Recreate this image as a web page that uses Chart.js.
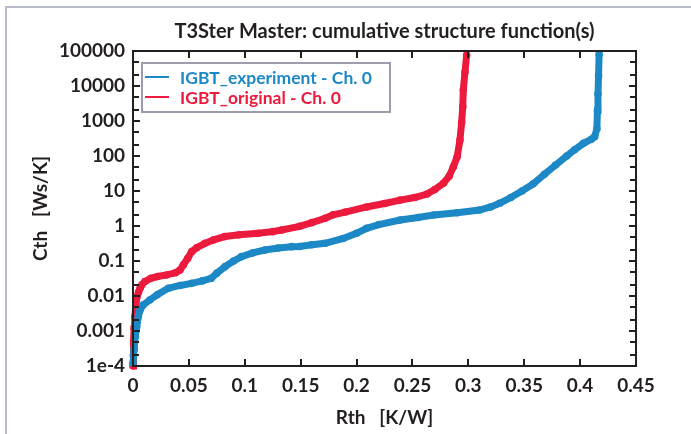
<!DOCTYPE html>
<html>
<head>
<meta charset="utf-8">
<script src="https://cdn.jsdelivr.net/npm/chart.js@4.4.1/dist/chart.umd.min.js"></script>
<style>
  html, body { margin: 0; padding: 0; background: #fff; overflow: hidden; }
  #frame { position: absolute; left: 5px; top: 6px; width: 720px; height: 460px;
           border-left: 2px solid #b9bdca; border-top: 2px solid #b9bdca; }
  #wrap { position: absolute; left: 0; top: 0; width: 691px; height: 434px; }
</style>
</head>
<body>
<div id="frame"></div>
<div id="wrap"><canvas id="myChart" width="691" height="434"></canvas></div>
<script>
// values
var originalRth = [0, 0.0003, 0.0006, 0.001, 0.0015, 0.0025, 0.0035, 0.005, 0.0063, 0.008, 0.0107, 0.016, 0.022, 0.03,
  0.038, 0.042, 0.045, 0.049, 0.0525, 0.057, 0.0644, 0.072, 0.0823, 0.095, 0.112, 0.125, 0.133, 0.149, 0.16,
  0.172, 0.179, 0.19, 0.209, 0.225, 0.239, 0.252, 0.263, 0.27, 0.2777, 0.2827, 0.2866, 0.29, 0.2925, 0.294,
  0.295, 0.2955, 0.297, 0.2985]
var originalCth = [1e-4, 2e-4, 5e-4, 0.0012, 0.0025, 0.005, 0.0095, 0.013, 0.0166, 0.021, 0.026, 0.032, 0.036, 0.040,
  0.046, 0.055, 0.077, 0.12, 0.185, 0.24, 0.32, 0.40, 0.50, 0.56, 0.62, 0.69, 0.77, 0.98, 1.25,
  1.66, 2.1, 2.5, 3.5, 4.4, 5.5, 6.5, 8.2, 11, 16.6, 26, 49, 95, 287, 900,
  2570, 7700, 25000, 77000]

var experimentRth = [0, 0.001, 0.002, 0.0033, 0.0048, 0.0063, 0.009, 0.015, 0.022, 0.0316, 0.042, 0.0525, 0.062, 0.07,
  0.075, 0.0823, 0.09, 0.097, 0.107, 0.118, 0.13, 0.142, 0.149, 0.16, 0.172, 0.188, 0.2, 0.209, 0.22, 0.239,
  0.255, 0.269, 0.29, 0.31, 0.32, 0.328, 0.338, 0.348, 0.358, 0.368, 0.378, 0.388, 0.395, 0.403, 0.41, 0.413,
  0.415, 0.4155, 0.416, 0.4165, 0.417]
var experimentCth = [1.2e-4, 3e-4, 7e-4, 0.0013, 0.0026, 0.004, 0.0055, 0.0077, 0.011, 0.0166, 0.02, 0.023, 0.027, 0.032,
  0.045, 0.069, 0.1, 0.133, 0.17, 0.206, 0.235, 0.257, 0.26, 0.29, 0.32, 0.44, 0.62, 0.86, 1.1, 1.48,
  1.75, 2.06, 2.4, 2.86, 3.5, 4.46, 6.5, 10, 16, 30, 55, 100, 150, 230, 300, 357,
  600, 2000, 6000, 20000, 80000]

var xTickValues = [0, 0.05, 0.1, 0.15, 0.2, 0.25, 0.3, 0.35, 0.4, 0.45]
var xTickLabels = ['0', '0.05', '0.1', '0.15', '0.2', '0.25', '0.3', '0.35', '0.4', '0.45']
var yTickValues = [1e-4, 1e-3, 1e-2, 1e-1, 1, 10, 100, 1000, 10000, 100000]
var yTickLabels = ['1e-4', '0.001', '0.01', '0.1', '1', '10', '100', '1000', '10000', '100000']

var chartTitle = 'T3Ster Master: cumulative structure function(s)'

var blue = 'rgb(29,136,198)'
var red = 'rgb(236,26,60)'
var ink = '#231f20'
var fontFamily = 'Lato, "Open Sans", sans-serif'

function pairs(xs, ys) {
  return xs.map(function (x, i) { return {x: x, y: ys[i]} })
}

// title over the plot, box, inward ticks and the legend
var boxPlugin = {
  id: 'boxPlugin',
  afterDraw: function (chart) {
    var ctx = chart.ctx
    var a = chart.chartArea
    var xs = chart.scales.x, ys = chart.scales.y
    ctx.save()
    ctx.fillStyle = ink
    ctx.font = 'bold 20px ' + fontFamily
    ctx.textAlign = 'center'
    ctx.textBaseline = 'middle'
    ctx.fillText(chartTitle, (a.left + a.right) / 2, 32)

    ctx.strokeStyle = ink
    ctx.lineWidth = 2
    ctx.strokeRect(a.left, a.top, a.right - a.left, a.bottom - a.top)
    ctx.beginPath()
    xTickValues.forEach(function (v) {
      var px = Math.round(xs.getPixelForValue(v))
      ctx.moveTo(px, a.bottom); ctx.lineTo(px, a.bottom - 7)
      ctx.moveTo(px, a.top); ctx.lineTo(px, a.top + 7)
    })
    yTickValues.forEach(function (v) {
      [1, 2, 5].forEach(function (m) {
        var val = v * m
        if (val > 1e5) return
        var py = Math.round(ys.getPixelForValue(val))
        var len = m === 1 ? 7 : 6
        ctx.moveTo(a.left, py); ctx.lineTo(a.left + len, py)
        ctx.moveTo(a.right, py); ctx.lineTo(a.right - len, py)
      })
    })
    ctx.stroke()

    // legend
    ctx.fillStyle = '#fff'
    ctx.fillRect(142, 63, 248, 49)
    ctx.strokeStyle = '#9c9cab'
    ctx.lineWidth = 2
    ctx.strokeRect(142, 63, 248, 49)
    ctx.font = 'bold 17.5px ' + fontFamily
    ctx.textAlign = 'left'
    ctx.textBaseline = 'middle'
    chart.data.datasets.forEach(function (ds, i) {
      var y = 77 + i * 20
      ctx.strokeStyle = ds.borderColor
      ctx.lineWidth = 2
      ctx.beginPath(); ctx.moveTo(145, y); ctx.lineTo(169, y); ctx.stroke()
      ctx.fillStyle = ds.borderColor
      ctx.fillText(ds.label, 180, y + 1)
    })
    ctx.restore()
  }
}

var ctxChart = document.getElementById('myChart').getContext('2d')
var myChart = new Chart(ctxChart, {
  type: 'scatter',
  data: {
    datasets: [{
      label: 'IGBT_experiment - Ch. 0',
      data: pairs(experimentRth, experimentCth),
      borderColor: blue,
      backgroundColor: blue,
      showLine: true,
      borderWidth: 7,
      pointRadius: 3.8,
      pointBorderWidth: 0,
      clip: false
    }, {
      label: 'IGBT_original - Ch. 0',
      data: pairs(originalRth, originalCth),
      borderColor: red,
      backgroundColor: red,
      showLine: true,
      borderWidth: 7,
      pointRadius: 3.8,
      pointBorderWidth: 0,
      clip: false
    }]
  },
  options: {
    responsive: false,
    animation: false,
    layout: {padding: {left: 0, right: 55, top: 51, bottom: 0}},
    plugins: {
      legend: {display: false},
      tooltip: {enabled: false},
      title: {display: false}
    },
    scales: {
      x: {
        type: 'linear',
        min: 0,
        max: 0.45,
        afterBuildTicks: function (s) { s.ticks = xTickValues.map(function (v) { return {value: v} }) },
        afterFit: function (s) { s.height = 68 },
        grid: {display: false, drawTicks: false},
        border: {display: false},
        ticks: {
          autoSkip: false, maxRotation: 0, padding: 8, color: ink,
          font: {family: fontFamily, size: 19, weight: 'bold'},
          callback: function (v, i) { return xTickLabels[i] }
        },
        title: {
          display: true, text: 'Rth   [K/W]', color: ink,
          font: {family: fontFamily, size: 19, weight: 'bold'},
          padding: {top: 0, bottom: 5}
        }
      },
      y: {
        type: 'logarithmic',
        min: 1e-4,
        max: 1e5,
        afterBuildTicks: function (s) { s.ticks = yTickValues.map(function (v) { return {value: v} }) },
        afterFit: function (s) { s.width = 133 },
        grid: {display: false, drawTicks: false},
        border: {display: false},
        ticks: {
          autoSkip: false, padding: 8, color: ink,
          font: {family: fontFamily, size: 19, weight: 'bold'},
          callback: function (v, i) { return yTickLabels[i] }
        },
        title: {
          display: true, text: 'Cth   [Ws/K]', color: ink,
          font: {family: fontFamily, size: 19, weight: 'bold'},
          padding: {top: 29, bottom: 0}
        }
      }
    }
  },
  plugins: [boxPlugin]
})
</script>
</body>
</html>
